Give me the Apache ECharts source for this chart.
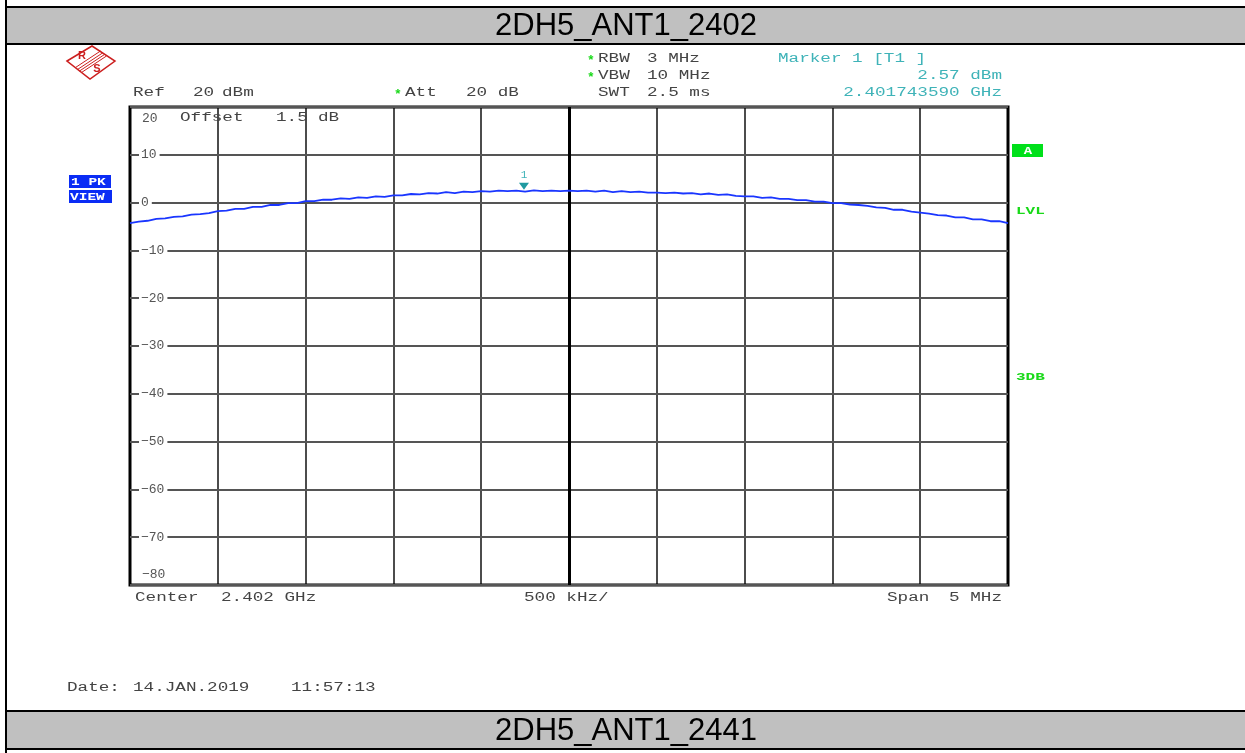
<!DOCTYPE html>
<html>
<head>
<meta charset="utf-8">
<script src="https://cdn.jsdelivr.net/npm/echarts@6/dist/echarts.min.js"></script>
<style>html,body{margin:0;padding:0;background:#fff}#c{width:1245px;height:753px}</style>
</head>
<body>
<div id="c"></div>
<script>
// ---- data ----
const titleTop = '2DH5_ANT1_2402';
const titleBottom = '2DH5_ANT1_2441';
const sweepStartMHz = 2399.5;   // center 2.402 GHz, span 5 MHz
const sweepStepMHz = 0.05;      // 101 sweep points
const levelDbm = [
  -4.3,-4.0,-3.8,-3.4,-3.3,-3.0,-2.9,-2.5,-2.4,-2.2,-1.8,
  -1.7,-1.3,-1.3,-0.9,-0.9,-0.5,-0.5,-0.1,-0.1,0.3,
  0.3,0.6,0.6,0.9,0.8,1.1,1.0,1.3,1.2,1.5,
  1.5,1.8,1.7,2.0,1.9,2.2,2.0,2.3,2.2,2.4,
  2.3,2.5,2.4,2.5,2.3,2.57,2.4,2.5,2.4,2.5,
  2.4,2.5,2.3,2.5,2.2,2.4,2.2,2.3,2.1,2.1,
  2.0,2.1,1.9,2.0,1.7,1.9,1.6,1.7,1.4,1.3,
  1.3,1.0,1.1,0.8,0.8,0.5,0.5,0.2,0.2,-0.1,
  -0.1,-0.4,-0.5,-0.7,-1.0,-1.1,-1.5,-1.5,-1.9,-2.1,
  -2.3,-2.6,-2.7,-3.1,-3.1,-3.5,-3.5,-3.9,-3.9,-4.3
];
const markerFreqMHz = 2401.743590;
const markerLevel = 2.57;
const yTicks = {min: -80, max: 20, interval: 10};
const xTicks = {min: 2399.5, max: 2404.5, interval: 0.5, center: 2402};

// ---- build ----
const traceData = levelDbm.map((v, i) => [sweepStartMHz + i * sweepStepMHz, v]);
const MONO = '"Liberation Mono","DejaVu Sans Mono",monospace';
const SX = 1.47;
const GREEN = '#19d919', TEAL = '#3fb3b8', DARK = '#444', RED = '#cc1f1f';
function T(str, x, y, color, align, extra) {
  return Object.assign({
    type: 'text', x: x, y: y, scaleX: SX, silent: true, z: 10,
    style: {text: str, font: '12px ' + MONO, fill: color || '#444',
            align: align || 'left', verticalAlign: 'middle'}
  }, extra || {});
}
function STAR(x, y) {
  return {type: 'text', x: x, y: y + 2, silent: true, z: 10,
          style: {text: '*', font: 'bold 13px ' + MONO, fill: GREEN, align: 'left', verticalAlign: 'middle'}};
}
function R(x, y, w, h, fill, z) {
  return {type: 'rect', silent: true, z: z || 5, shape: {x: x, y: y, width: w, height: h}, style: {fill: fill}};
}

const graphic = [
  // frame bands
  R(7, 8, 1238, 35, '#c0c0c0', 1),
  R(7, 6, 1238, 2, '#000', 2),
  R(7, 43, 1238, 2, '#000', 2),
  R(7, 712, 1238, 36, '#c0c0c0', 1),
  R(7, 710, 1238, 2, '#000', 2),
  R(7, 748, 1238, 2, '#000', 2),
  R(5, 0, 2, 753, '#000', 3),
  {type: 'text', x: 626, y: 26, silent: true, z: 5,
   style: {text: titleTop, font: '31px "Liberation Sans", Arial, sans-serif', fill: '#000', align: 'center', verticalAlign: 'middle'}},
  {type: 'text', x: 626, y: 731, silent: true, z: 5,
   style: {text: titleBottom, font: '31px "Liberation Sans", Arial, sans-serif', fill: '#000', align: 'center', verticalAlign: 'middle'}},
  // R&S logo
  {type: 'polygon', silent: true, z: 5, shape: {points: [[67,61],[92,46],[115,61],[90,79]]},
   style: {fill: 'none', stroke: RED, lineWidth: 1.5}},
  {type: 'polyline', silent: true, z: 5, shape: {points: [[75.5,67.5],[100.5,51]]}, style: {stroke: RED, lineWidth: 1}},
  {type: 'polyline', silent: true, z: 5, shape: {points: [[77.5,69.5],[102.5,53]]}, style: {stroke: RED, lineWidth: 1}},
  {type: 'polyline', silent: true, z: 5, shape: {points: [[79.5,71],[104.5,54.5]]}, style: {stroke: RED, lineWidth: 1}},
  {type: 'polyline', silent: true, z: 5, shape: {points: [[81.5,72.5],[106.5,56]]}, style: {stroke: RED, lineWidth: 1}},
  {type: 'text', x: 82, y: 56, silent: true, z: 5, style: {text: 'R', font: 'bold 11px "Liberation Sans", sans-serif', fill: RED, align: 'center', verticalAlign: 'middle'}},
  {type: 'text', x: 97, y: 69, silent: true, z: 5, style: {text: 'S', font: 'bold 11px "Liberation Sans", sans-serif', fill: RED, align: 'center', verticalAlign: 'middle'}},
  // header
  STAR(587, 59), T('RBW', 598, 59, DARK), T('3 MHz', 647, 59, DARK),
  STAR(587, 76), T('VBW', 598, 76, DARK), T('10 MHz', 647, 76, DARK),
  T('Ref', 133, 93, DARK), T('20', 193, 93, DARK), T('dBm', 222, 93, DARK),
  STAR(394, 93), T('Att', 405, 93, DARK), T('20 dB', 466, 93, DARK),
  T('SWT', 598, 93, DARK), T('2.5 ms', 647, 93, DARK),
  T('Marker 1 [T1 ]', 778, 59, TEAL),
  T('2.57 dBm', 1002, 76, TEAL, 'right'),
  T('2.401743590 GHz', 1002, 93, TEAL, 'right'),
  T('Offset', 180, 118, DARK), T('1.5', 276, 118, DARK), T('dB', 318, 118, DARK),
  // footer
  T('Center', 135, 598, DARK), T('2.402 GHz', 221, 598, DARK),
  T('500 kHz/', 524, 598, DARK),
  T('Span', 887, 598, DARK), T('5 MHz', 1002, 598, DARK, 'right'),
  T('Date:', 67, 688, DARK), T('14.JAN.2019', 133, 688, DARK), T('11:57:13', 291, 688, DARK),
  // left boxes
  R(69, 175, 42, 13, '#0a2cf5', 6),
  R(69, 190, 43, 13, '#0a2cf5', 6),
  {type: 'text', x: 71, y: 182, scaleX: 1.45, silent: true, z: 10,
   style: {text: '1 PK', font: 'bold 10px ' + MONO, fill: '#fff', align: 'left', verticalAlign: 'middle'}},
  {type: 'text', x: 70, y: 197, scaleX: 1.45, silent: true, z: 10,
   style: {text: 'VIEW', font: 'bold 10px ' + MONO, fill: '#fff', align: 'left', verticalAlign: 'middle'}},
  // right side
  R(1012, 144, 31, 13, '#00e01a', 6),
  {type: 'text', x: 1028, y: 151, scaleX: 1.4, silent: true, z: 10,
   style: {text: 'A', font: 'bold 10px ' + MONO, fill: '#fff', align: 'center', verticalAlign: 'middle'}},
  {type: 'text', x: 1016, y: 211, scaleX: 1.6, silent: true, z: 10,
   style: {text: 'LVL', font: 'bold 10px ' + MONO, fill: GREEN, align: 'left', verticalAlign: 'middle'}},
  {type: 'text', x: 1016, y: 377, scaleX: 1.6, silent: true, z: 10,
   style: {text: '3DB', font: 'bold 10px ' + MONO, fill: GREEN, align: 'left', verticalAlign: 'middle'}}
];

const chart = echarts.init(document.getElementById('c'), null, {renderer: 'canvas'});
chart.setOption({
  animation: false,
  backgroundColor: '#fff',
  grid: {left: 130, top: 107, right: 237, bottom: 168, show: true, borderColor: '#000', borderWidth: 3, backgroundColor: 'transparent', z: 3},
  xAxis: {
    type: 'value', min: xTicks.min, max: xTicks.max, interval: xTicks.interval,
    axisLine: {show: false}, axisTick: {show: false}, axisLabel: {show: false},
    splitLine: {show: true, lineStyle: {color: '#111', width: 1.5}}
  },
  yAxis: {
    type: 'value', min: yTicks.min, max: yTicks.max, interval: yTicks.interval,
    axisLine: {show: false}, axisTick: {show: false},
    axisLabel: {
      inside: true, margin: 9, color: '#555', fontFamily: MONO, fontSize: 13,
      verticalAlignMaxLabel: 'top', verticalAlignMinLabel: 'bottom',
      formatter: v => {
        const s = String(v).replace('-', '\u2212');
        if (v === yTicks.max) return '{t|' + s + '}';
        if (v === yTicks.min) return '{b|' + s + '}';
        return '{n|' + s + '}';
      },
      rich: {
        n: {backgroundColor: '#fff', padding: [0, 3, 0, 2], color: '#555', fontFamily: MONO, fontSize: 13},
        t: {padding: [5, 0, 0, 3], color: '#555', fontFamily: MONO, fontSize: 13},
        b: {padding: [0, 0, 4, 3], color: '#555', fontFamily: MONO, fontSize: 13}
      }
    },
    splitLine: {show: true, lineStyle: {color: '#555', width: 2}},
    z: 4
  },
  series: [{
    type: 'line', data: traceData, showSymbol: false, symbol: 'none',
    lineStyle: {color: '#1a36ff', width: 1.8}, z: 5,
    markLine: {
      silent: true, symbol: 'none', label: {show: false},
      lineStyle: {color: '#000', width: 3, type: 'solid'},
      data: [{xAxis: xTicks.center}]
    },
    markPoint: {
      silent: true,
      data: [{coord: [markerFreqMHz, markerLevel], symbol: 'triangle', symbolRotate: 180, symbolSize: [10, 7], symbolOffset: [0, -4],
              itemStyle: {color: '#1f9aa0'},
              label: {show: true, formatter: '1', position: 'top', distance: 2, color: TEAL, fontFamily: MONO, fontSize: 11}}]
    }
  }],
  graphic: graphic
});
</script>
</body>
</html>
